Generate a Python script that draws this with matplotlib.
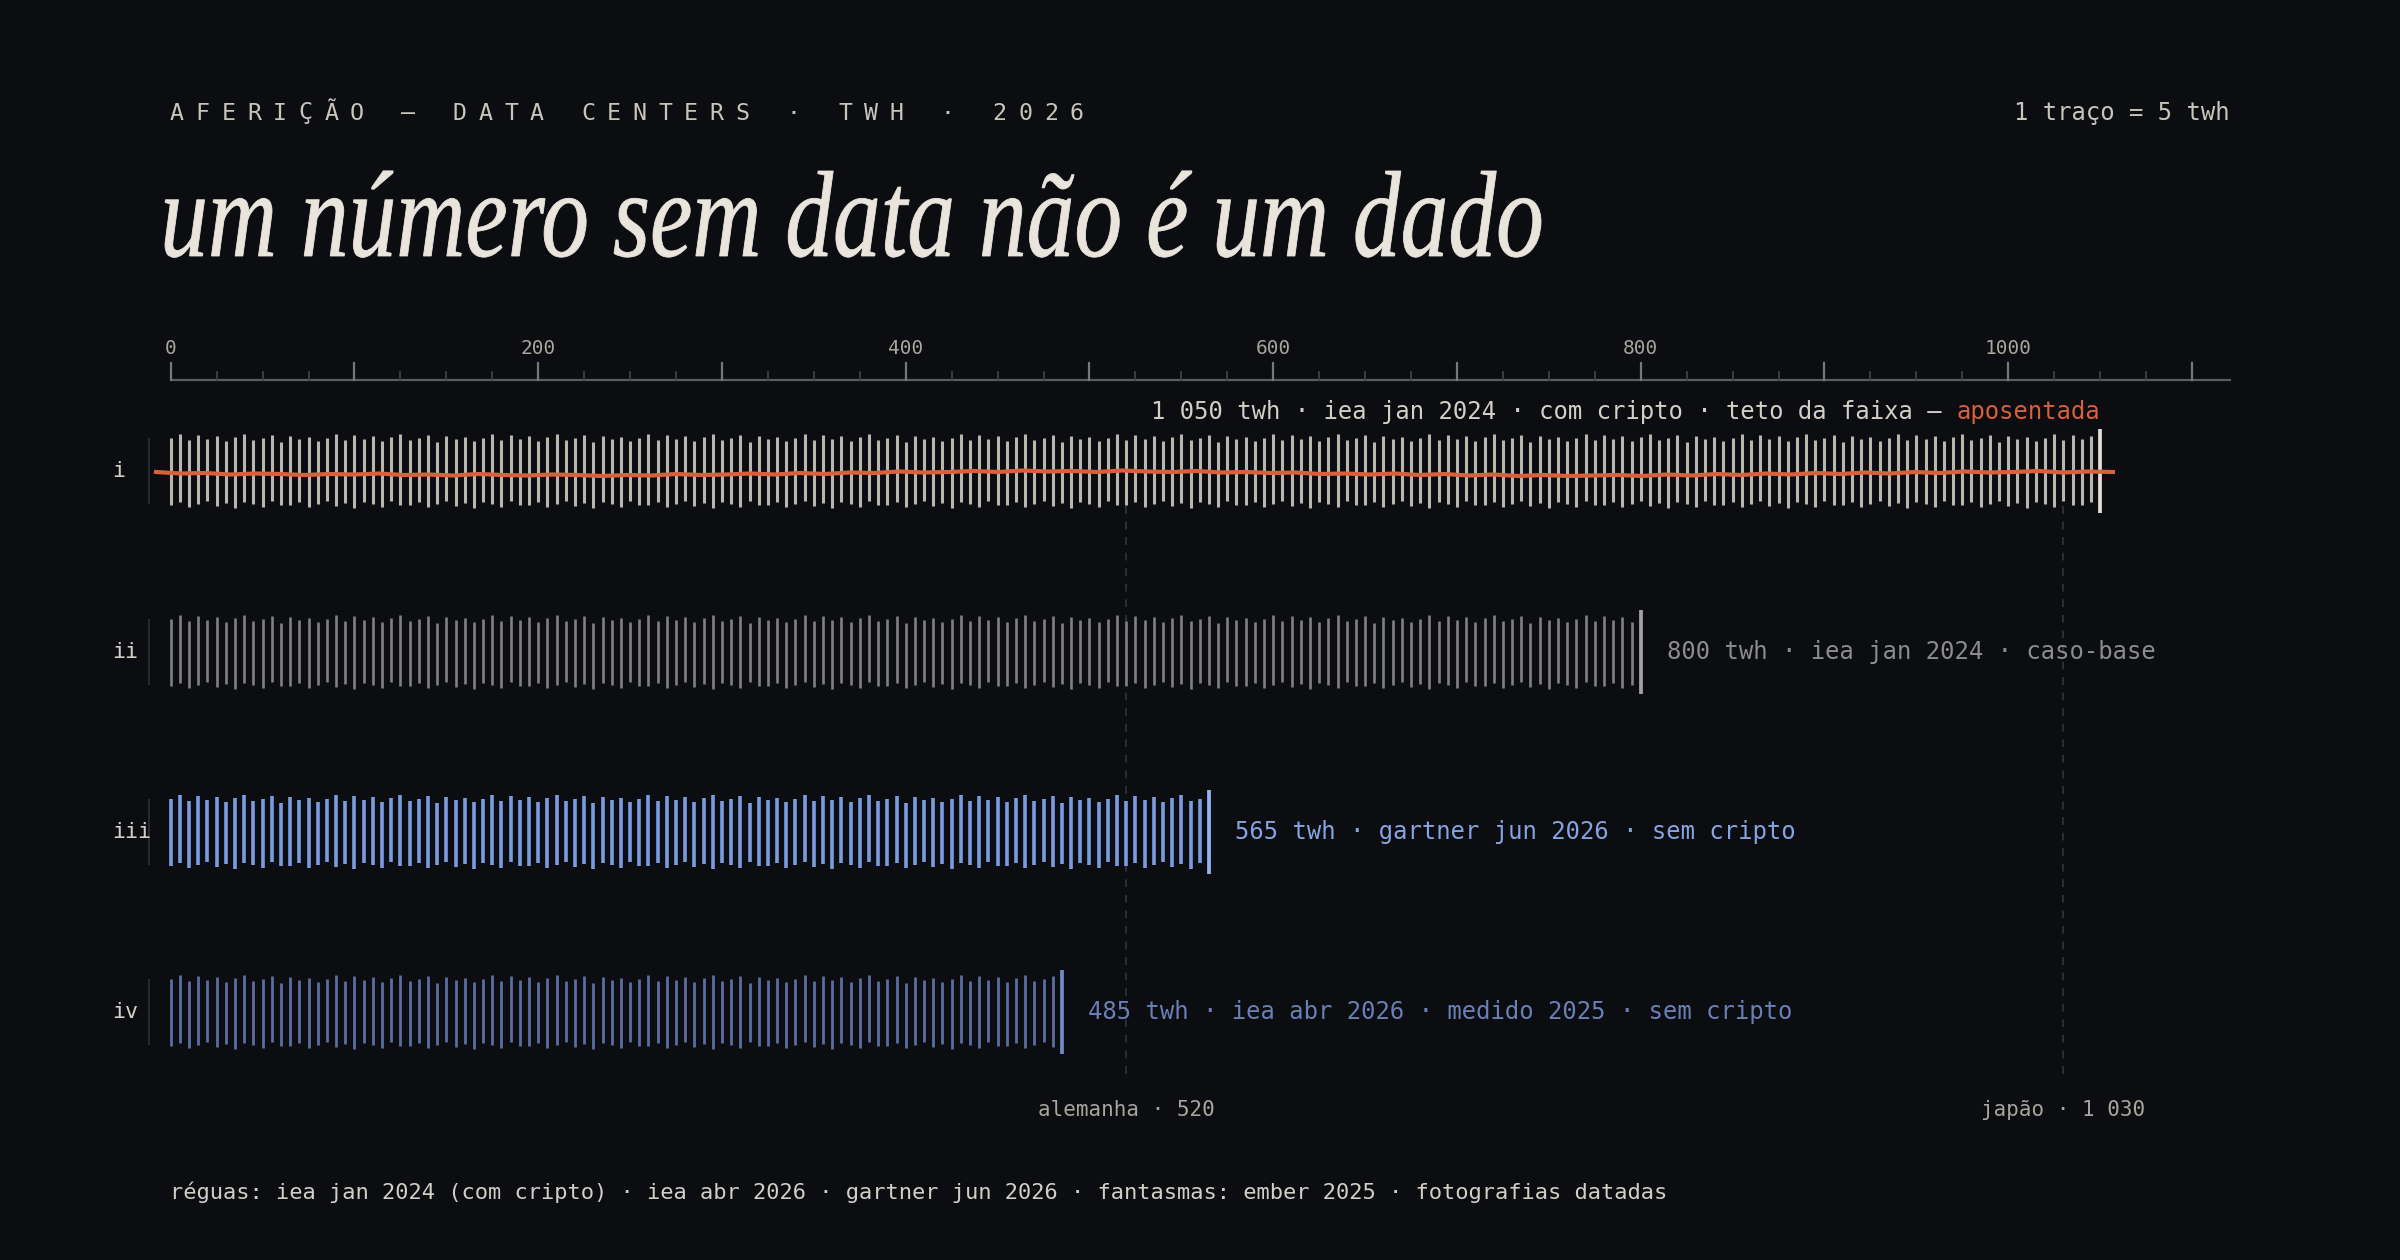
import numpy as np
import matplotlib
matplotlib.use('Agg')
import matplotlib.pyplot as plt
from matplotlib.textpath import TextPath
from matplotlib.patches import PathPatch
from matplotlib.font_manager import FontProperties
from matplotlib.transforms import Affine2D

# ---------------- data ----------------
row_ids = ['i', 'ii', 'iii', 'iv']
row_values = [1050, 800, 565, 485]
row_texts = ['1 050 twh · iea jan 2024 · com cripto · teto da faixa — ',
             '800 twh · iea jan 2024 · caso-base',
             '565 twh · gartner jun 2026 · sem cripto',
             '485 twh · iea abr 2026 · medido 2025 · sem cripto']
retired_tag = 'aposentada'
twh_per_tick = 5
ref_names = ['alemanha · 520', 'japão · 1 030']
ref_values = [520, 1030]
axis_labels = [0, 200, 400, 600, 800, 1000]
header = 'AFERIÇÃO — DATA CENTERS · TWH · 2026'
title = 'um número sem data não é um dado'
scale_note = '1 traço = 5 twh'
footnote = ('réguas: iea jan 2024 (com cripto) · iea abr 2026 · gartner jun 2026 · '
            'fantasmas: ember 2025 · fotografias datadas')
# hand-drawn irregularity of the tick ends (px)
tick_top_jitter = [0, -4, 2, -3, 1, -2, 3, -1, -4, 2, 0, -3, 4, -2, 1, -1, 3]
tick_bot_jitter = [1, -2, 3, 0, -3, 2, -1, 4, -2, 0, 3, -3, 1]
# the red "retired" trace through row i (vertical offsets, px)
retired_dy = [-1, 0.5, 0, 1.5, 0.5, 1, 2, 1, 1.5, 0.5, 2, 1.5, 2.5, 1, 2, 2.5, 1.5, 2,
              3, 2, 2.5, 1, 2, 1.5, 0.5, 1.5, 0, 1, -0.5, 0, -1.5, -0.5, -1, -2, -1,
              -2.5, -1.5, -2, -1, -2.5, -1.5, -1, -2, -0.5, -1, 0, -0.5, 1, 0.5, 1.5,
              0.5, 2, 1, 2.5, 1.5, 3, 2, 3, 2.5, 2, 3, 1.5, 2.5, 1, 2, 0.5, 1.5, 0,
              1, -0.5, 0.5, -1, 0, -1.5, -0.5, -1, -2, -0.5, -1.5, -1]

# ---------------- style ----------------
BG = '#0b0d11'
W, H, DPI = 2400, 1260, 200
X0, PXU = 170.7, 1.8375          # pixel of 0 twh, pixels per twh
row_y = [471, 652, 832, 1012]
half = 33
tick_cols = ['#bab6ae', '#808080', '#7b9be0', '#5a6da3']
end_cols = ['#e2ded6', '#a3a3a3', '#95b3f2', '#7489c4']
text_cols = ['#d3cfc7', '#8c8c8c', '#86a3e2', '#6a7fb6']
tick_lw = [1.1, 0.95, 1.3, 1.0]
RED = '#d9603c'
LIGHT = '#d3cfc7'
MONO = 'DejaVu Sans Mono'

fig = plt.figure(figsize=(W / DPI, H / DPI), dpi=DPI, facecolor=BG)
ax = fig.add_axes([0, 0, 1, 1])
ax.set_facecolor(BG)
ax.set_xlim(-X0 / PXU, (W - X0) / PXU)
ax.set_ylim(H, 0)
ax.axis('off')

tx = fig.add_axes([0, 0, 1, 1], facecolor='none')
tx.set_xlim(0, W)
tx.set_ylim(H, 0)
tx.axis('off')

# ---------------- ruler ----------------
axis_y = 380
axis_end = 1121
ax.plot([0, axis_end], [axis_y, axis_y], color='#5c5d61', lw=0.8, solid_capstyle='butt')
for v in range(0, axis_end, 25):
    if v % 100 == 0:
        ax.plot([v, v], [axis_y - 17, axis_y], color='#77787c', lw=0.8)
    else:
        ax.plot([v, v], [axis_y - 8, axis_y], color='#45464a', lw=0.6)
for v in axis_labels:
    ax.text(v, 348, str(v), ha='center', va='center', fontsize=7.0,
            family=MONO, color='#a9a59d')

# ---------------- reference (ghost) lines ----------------
for name, v in zip(ref_names, ref_values):
    ax.plot([v, v], [506, 1078], color='#2b2e34', lw=0.7, ls=(0, (4, 4)))
    ax.text(v, 1110, name, ha='center', va='center', fontsize=7.5,
            family=MONO, color='#a9a59d')

# ---------------- rows ----------------
for r, (rid, val, yc) in enumerate(zip(row_ids, row_values, row_y)):
    n = val // twh_per_tick
    xs = np.arange(n) * twh_per_tick
    tops = [yc - half + tick_top_jitter[k % len(tick_top_jitter)] for k in range(n)]
    bots = [yc + half + tick_bot_jitter[k % len(tick_bot_jitter)] for k in range(n)]
    ax.vlines(xs, tops, bots, color=tick_cols[r], lw=tick_lw[r])
    ax.vlines([val], yc - 42, yc + 42, color=end_cols[r], lw=1.35)
    ax.vlines([-12], yc - half, yc + half, color='#2f3136', lw=0.6)
    tx.text(112, yc, rid, ha='left', va='center', fontsize=7.8, family=MONO, color=LIGHT)
    if r > 0:
        ax.text(val + 14.2, yc, row_texts[r], ha='left', va='center',
                fontsize=8.6, family=MONO, color=text_cols[r])

# red retired trace through row i
rx = np.linspace(-8, 1057, len(retired_dy))
ax.plot(rx, [row_y[0] + 2 + d for d in retired_dy], color=RED, lw=1.5, zorder=5,
        solid_joinstyle='round')

# row i annotation (two colours)
red_t = ax.text(row_values[0], 412, retired_tag, ha='right', va='center',
                fontsize=8.6, family=MONO, color=RED)
ax.annotate(row_texts[0].rstrip(), xy=(0, 0.5), xycoords=red_t,
            xytext=(-0.602 * 8.6, 0), textcoords='offset points',
            ha='right', va='center', fontsize=8.6, family=MONO, color=LIGHT)

# ---------------- header texts ----------------
pitch = 25.7
for i, ch in enumerate(header):
    tx.text(170 + i * pitch, 113, ch, ha='left', va='center', fontsize=8.4,
            family=MONO, color='#c9c5bd')
tx.text(2230, 113, scale_note, ha='right', va='center', fontsize=8.6,
        family=MONO, color='#c9c5bd')
tx.text(170, 1192, footnote, ha='left', va='center', fontsize=7.95,
        family=MONO, color=LIGHT)

# ---------------- title (condensed serif italic) ----------------
fp = FontProperties(family='Liberation Serif', style='italic')
tp = TextPath((0, 0), title, size=100, prop=fp)
ext = tp.get_extents()
hd = TextPath((0, 0), 'd', size=100, prop=fp).get_extents().y1
left, right, base, asc = 165, 1541, 256, 85
sx = (right - left) / ext.width
sy = asc / hd
trans = Affine2D().translate(-ext.x0, 0).scale(sx, sy).translate(left, H - base)
fig.add_artist(PathPatch(tp, transform=trans, facecolor='#e9e5dd', edgecolor='#e9e5dd',
                         lw=0.3))

fig.savefig('out.png', dpi=DPI, facecolor=BG)
